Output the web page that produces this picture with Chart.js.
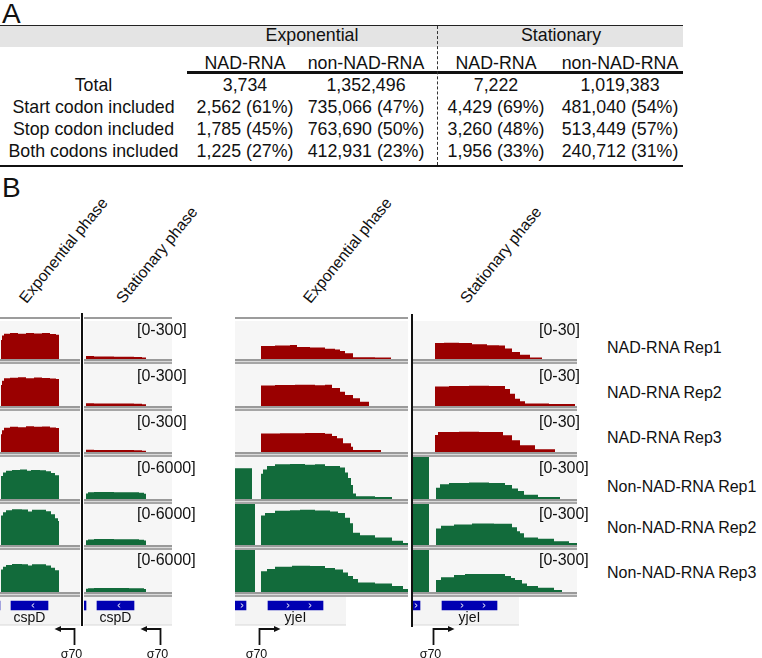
<!DOCTYPE html>
<html><head><meta charset="utf-8">
<script src="https://cdn.jsdelivr.net/npm/chart.js@4.4.1/dist/chart.umd.min.js"></script>
<style>
html,body{margin:0;padding:0;background:#fff;width:762px;height:658px;overflow:hidden;}
#root{position:relative;width:762px;height:658px;font-family:"Liberation Sans",Arial,sans-serif;color:#111;}
#root div{white-space:nowrap;}
canvas{display:block;}
</style></head><body><div id="root"></div>
<script>
// ---------------- Panel A data ----------------
const tableGroups = ['Exponential', 'Stationary'];
const tableSubHeaders = ['NAD-RNA', 'non-NAD-RNA', 'NAD-RNA', 'non-NAD-RNA'];
const tableRowLabels = ['Total', 'Start codon included', 'Stop codon included', 'Both codons included'];
const expNadCounts = ['3,734', '2,562 (61%)', '1,785 (45%)', '1,225 (27%)'];
const expNonNadCounts = ['1,352,496', '735,066 (47%)', '763,690 (50%)', '412,931 (23%)'];
const statNadCounts = ['7,222', '4,429 (69%)', '3,260 (48%)', '1,956 (33%)'];
const statNonNadCounts = ['1,019,383', '481,040 (54%)', '513,449 (57%)', '240,712 (31%)'];

// ---------------- Panel B data ----------------
const phaseLabels = ['Exponential phase', 'Stationary phase'];
const trackNames = ['NAD-RNA Rep1', 'NAD-RNA Rep2', 'NAD-RNA Rep3', 'Non-NAD-RNA Rep1', 'Non-NAD-RNA Rep2', 'Non-NAD-RNA Rep3'];
const cspdRangeMax = [300, 300, 300, 6000, 6000, 6000];
const yjeiRangeMax = [30, 30, 30, 300, 300, 300];

// coverage profiles: [position, coverage] (value holds until next position)
const cspdExpNAD1 = [[3,150],[4,185],[6,200],[12,205],[20,200],[28,206],[36,202],[44,205],[52,198],[58,192],[61,0]];
const cspdExpNAD2 = [[3,150],[4,180],[6,198],[12,202],[20,205],[28,198],[36,203],[44,200],[52,197],[58,192],[61,0]];
const cspdExpNAD3 = [[3,130],[4,160],[6,178],[12,185],[20,182],[28,188],[36,184],[44,186],[52,180],[58,176],[61,0]];
const cspdExpNon1 = [[3,3300],[5,3800],[8,4050],[14,4150],[22,4200],[29,4050],[33,4150],[42,4100],[48,3950],[53,3700],[57,3400],[61,0]];
const cspdExpNon2 = [[3,4300],[5,4800],[8,5100],[14,5250],[24,5200],[30,4900],[34,5150],[42,5150],[48,4950],[53,4500],[57,3900],[60,3500],[61,0]];
const cspdExpNon3 = [[3,3200],[5,3600],[8,3850],[14,4000],[24,3950],[30,3800],[34,3950],[42,3950],[48,3800],[53,3450],[57,3100],[61,0]];
const cspdStatNAD1 = [[2,24],[10,20],[30,18],[50,16],[58,12],[62,0]];
const cspdStatNAD2 = [[2,20],[10,18],[30,17],[50,16],[58,12],[62,0]];
const cspdStatNAD3 = [[2,16],[10,15],[30,14],[50,13],[58,10],[62,0]];
const cspdStatNon1 = [[2,800],[4,950],[10,1000],[30,980],[45,960],[55,900],[60,750],[62,0]];
const cspdStatNon2 = [[2,700],[4,820],[10,860],[30,850],[45,830],[55,780],[60,650],[62,0]];
const cspdStatNon3 = [[2,450],[4,540],[10,570],[30,560],[45,550],[55,520],[60,430],[62,0]];

const yjeiExpNAD1 = [[26,10.3],[40,10.6],[55,11.1],[62,9.4],[75,9.1],[90,8.0],[100,7.5],[105,6.3],[110,4.5],[118,1.4],[140,1.1],[156,0]];
const yjeiExpNAD2 = [[26,14.6],[40,15.0],[60,15.2],[80,14.8],[90,15.1],[97,12.8],[105,10.2],[110,7.9],[118,5.5],[125,3.0],[134,0]];
const yjeiExpNAD3 = [[26,13.5],[45,13.8],[70,13.9],[90,13.4],[97,11.7],[102,10.0],[108,6.4],[116,3.9],[118,1.5],[146,0]];
const yjeiExpNon1 = [[-5,220],[17,0],[26,180],[28,210],[32,235],[40,248],[55,250],[70,245],[80,248],[90,235],[105,225],[110,190],[113,150],[116,100],[118,40],[121,20],[140,15],[157,0]];
const yjeiExpNon2 = [[-5,400],[20,0],[26,215],[30,235],[40,250],[55,255],[65,258],[80,252],[95,245],[103,235],[110,200],[115,160],[118,90],[125,72],[140,55],[157,32],[168,15],[175,0]];
const yjeiExpNon3 = [[-5,400],[20,0],[26,148],[32,165],[40,180],[57,188],[75,185],[90,172],[100,160],[108,140],[113,115],[118,93],[123,68],[140,60],[157,42],[168,22],[175,0]];
const yjeiStatNAD1 = [[26,12.6],[35,12.9],[50,12.7],[63,11.7],[78,10.9],[90,10.6],[96,8.2],[103,5.6],[111,3.4],[121,1.1],[133,0]];
const yjeiStatNAD2 = [[26,14.0],[40,14.3],[60,14.4],[80,14.2],[96,12.2],[101,8.8],[106,5.2],[111,3.4],[116,1.7],[140,1.4],[166,0]];
const yjeiStatNAD3 = [[26,12.5],[29,14.6],[50,14.8],[70,14.6],[94,12.2],[103,8.6],[111,4.9],[126,2.0],[146,0]];
const yjeiStatNon1 = [[0,400],[20,0],[27,80],[31,105],[40,115],[60,118],[80,115],[96,100],[103,75],[109,57],[115,30],[129,15],[151,0]];
const yjeiStatNon2 = [[0,400],[20,0],[27,120],[32,140],[45,150],[63,157],[85,155],[103,130],[108,100],[111,86],[115,55],[129,45],[145,28],[160,15],[170,0]];
const yjeiStatNon3 = [[0,400],[20,0],[27,85],[32,105],[45,122],[56,129],[80,128],[96,115],[102,100],[106,86],[113,60],[118,43],[129,30],[145,15],[153,0]];

// gene annotation: [start, end], names, strand chevrons, promoter [TSS, arrow tip]
const cspdGenes = [[-20, 2], [13, 50]];
const cspdGeneNames = ['', 'cspD'];
const cspdChevrons = [35];
const cspdPromoter = [76.5, 56.5];
const yjeiGenes = [[-30, 11], [33, 88]];
const yjeiGeneNames = ['', 'yjeI'];
const yjeiChevrons = [7, 53, 75];
const yjeiPromoter = [24.5, 45.5];
const promoterFactor = 'σ70';

// ---------------- layout ----------------
const FONT = '"Liberation Sans", Arial, sans-serif';
const RED = '#9a0000', GREEN = '#126b3b', BLUE = '#0000b2';
const root = document.getElementById('root');
function el(css, text) {
  const e = document.createElement('div');
  e.style.cssText = 'position:absolute;' + css;
  if (text != null) e.textContent = text;
  root.appendChild(e);
  return e;
}
function textAt(cx, cy, txt, fs, align) {
  if (align === 'left') return el(`left:${cx}px;top:${cy-10}px;height:20px;line-height:20px;font-size:${fs}px;`, txt);
  return el(`left:${cx-150}px;width:300px;top:${cy-10}px;height:20px;line-height:20px;text-align:center;font-size:${fs}px;`, txt);
}

// Panel A
el('left:2px;top:0px;font-size:28px;line-height:28px;', 'A');
el('left:0;top:26px;width:683px;height:21px;background:#e4e4e4;');
el('left:0;top:24.5px;width:683px;height:1.5px;background:#222;');
el('left:187px;top:71px;width:496px;height:2.5px;background:#111;');
el('left:0;top:165px;width:683px;height:2px;background:#111;');
el('left:437px;top:26px;width:0;height:139px;border-left:1.4px dashed #333;');
const groupX = [312, 561];
tableGroups.forEach((g, i) => textAt(groupX[i], 34.5, g, 17.8));
const colX = [245, 366, 496, 620];
tableSubHeaders.forEach((h, i) => textAt(colX[i], 62.5, h, 17.8));
const rowYs = [85.3, 106.5, 128.8, 151.3];
const tableCols = [expNadCounts, expNonNadCounts, statNadCounts, statNonNadCounts];
tableRowLabels.forEach((r, j) => {
  textAt(93.5, rowYs[j], r, 17.8);
  tableCols.forEach((col, i) => textAt(colX[i], rowYs[j], col[j], 17.8));
});

// Panel B
el('left:2px;top:174px;font-size:28px;line-height:28px;', 'B');
const rowY = [318, 361, 408, 454, 501, 547, 594];
const rangeLabelY = [330, 375.5, 421.5, 468, 513.5, 560];
const trackLabelY = [348.3, 393.3, 438.3, 486.7, 528.3, 573.3];
const panels = [
  {left:0,   width:80,  xr:[2,82],  tracks:[cspdExpNAD1,cspdExpNAD2,cspdExpNAD3,cspdExpNon1,cspdExpNon2,cspdExpNon3], max:cspdRangeMax, phase:0, hx:27,  topLine:true,
   genes:cspdGenes, names:cspdGeneNames, chev:cspdChevrons, strand:-1, prom:cspdPromoter, bg:[-10,100]},
  {left:84,  width:88,  xr:[0,88],  tracks:[cspdStatNAD1,cspdStatNAD2,cspdStatNAD3,cspdStatNon1,cspdStatNon2,cspdStatNon3], max:cspdRangeMax, phase:1, hx:124, topLine:true, rangeX:137,
   genes:cspdGenes, names:cspdGeneNames, chev:cspdChevrons, strand:-1, prom:cspdPromoter, bg:[-10,100]},
  {left:235, width:173, xr:[0,173], tracks:[yjeiExpNAD1,yjeiExpNAD2,yjeiExpNAD3,yjeiExpNon1,yjeiExpNon2,yjeiExpNon3], max:yjeiRangeMax, phase:0, hx:311, topLine:true,
   genes:yjeiGenes, names:yjeiGeneNames, chev:yjeiChevrons, strand:1, prom:yjeiPromoter, bg:[-10,111]},
  {left:413, width:164, xr:[4,168], tracks:[yjeiStatNAD1,yjeiStatNAD2,yjeiStatNAD3,yjeiStatNon1,yjeiStatNon2,yjeiStatNon3], max:yjeiRangeMax, phase:1, hx:468, topLine:false, rangeX:539,
   genes:yjeiGenes, names:yjeiGeneNames, chev:yjeiChevrons, strand:1, prom:yjeiPromoter, bg:[-10,110]},
];

function makeCanvas(left, top, w, h, bg) {
  const c = document.createElement('canvas');
  c.width = w; c.height = h;
  c.style.cssText = `position:absolute;left:${left}px;top:${top}px;width:${w}px;height:${h}px;` + (bg ? `background:${bg};` : '');
  root.appendChild(c);
  return c;
}
const baseOpts = () => ({
  responsive:false, animation:false, devicePixelRatio:1, events:[],
  layout:{padding:0},
  plugins:{legend:{display:false}, tooltip:{enabled:false}, title:{display:false}},
});

function coverageTrack(left, top, w, h, xr, ymax, pts, color) {
  const c = makeCanvas(left, top, w, h, '#f6f6f6');
  const o = baseOpts();
  o.scales = {x:{type:'linear', min:xr[0], max:xr[1], display:false}, y:{type:'linear', min:0, max:ymax, display:false}};
  new Chart(c, {type:'line', data:{datasets:[{data:pts, stepped:true, fill:'origin', backgroundColor:color, borderColor:color, borderWidth:0, pointRadius:0, clip:0}]}, options:o});
}

const genePlugin = {
  id:'geneDecor',
  beforeDatasetsDraw(chart, args, opts) {
    const ctx = chart.ctx, x = chart.scales.x, p = opts.panel, a = chart.chartArea;
    const x0 = Math.max(a.left, x.getPixelForValue(p.bg[0])), x1 = Math.min(a.right, x.getPixelForValue(p.bg[1]));
    ctx.save();
    ctx.fillStyle = '#f4f4f4';
    ctx.fillRect(x0, 0, x1 - x0, 28);
    ctx.fillStyle = '#d8d8d8';
    ctx.fillRect(x0, 27.5, x1 - x0, 1);
    ctx.restore();
  },
  afterDatasetsDraw(chart, args, opts) {
    const ctx = chart.ctx, x = chart.scales.x, p = opts.panel;
    const cy = 8.5;
    ctx.save();
    ctx.strokeStyle = '#fff'; ctx.lineWidth = 1;
    p.chev.forEach(v => {
      const cx = x.getPixelForValue(v);
      ctx.beginPath();
      ctx.moveTo(cx - 1.2 * p.strand, cy - 2);
      ctx.lineTo(cx + 1.2 * p.strand, cy);
      ctx.lineTo(cx - 1.2 * p.strand, cy + 2);
      ctx.stroke();
    });
    ctx.fillStyle = '#111';
    ctx.font = '14px ' + FONT;
    ctx.textAlign = 'center'; ctx.textBaseline = 'alphabetic';
    p.genes.forEach((g, i) => {
      if (p.names[i]) ctx.fillText(p.names[i], x.getPixelForValue((g[0] + g[1]) / 2), 24.5);
    });
    const px = x.getPixelForValue(p.prom[0]), tip = x.getPixelForValue(p.prom[1]);
    const dir = Math.sign(tip - px), ay = 32;
    ctx.strokeStyle = '#111'; ctx.lineWidth = 1.8;
    ctx.beginPath();
    ctx.moveTo(px, 48); ctx.lineTo(px, ay); ctx.lineTo(tip - dir * 5, ay);
    ctx.stroke();
    ctx.beginPath();
    ctx.moveTo(tip, ay); ctx.lineTo(tip - dir * 6.5, ay - 3); ctx.lineTo(tip - dir * 6.5, ay + 3); ctx.closePath();
    ctx.fill();
    ctx.font = '12.5px ' + FONT;
    ctx.fillText(promoterFactor, px - 3, 60.5);
    ctx.restore();
  }
};

function geneTrack(p) {
  const top = 597, h = 61, extra = 24;
  const c = makeCanvas(p.left, top, p.width + extra, h, null);
  const o = baseOpts();
  o.indexAxis = 'y';
  o.layout = {padding:{top:0, bottom:h - 17, left:0, right:extra}};
  o.scales = {x:{type:'linear', min:p.xr[0], max:p.xr[1], display:false}, y:{display:false}};
  o.plugins.geneDecor = {panel:p};
  new Chart(c, {
    type:'bar',
    data:{labels:['genes'], datasets:p.genes.map(g => ({data:[g], backgroundColor:BLUE, barThickness:9, grouped:false, clip:0}))},
    options:o,
    plugins:[genePlugin]
  });
}

panels.forEach(p => {
  el(`left:${p.hx}px;top:${304 - 15.5}px;font-size:15.8px;line-height:20px;transform-origin:0 15.5px;transform:rotate(-51deg);`, phaseLabels[p.phase]);
  if (p.topLine) el(`left:${p.left}px;top:317px;width:${p.width}px;height:1.6px;background:#9c9c9c;`);
  p.tracks.forEach((pts, r) => {
    const top = rowY[r] + 3, bottom = rowY[r + 1] - 2;
    coverageTrack(p.left, top, p.width, bottom - top, p.xr, p.max[r], pts, r < 3 ? RED : GREEN);
    el(`left:${p.left}px;top:${rowY[r + 1] - 2}px;width:${p.width}px;height:1px;border-top:2px solid #9a9a9a;border-bottom:2px solid #a6a6a6;background:#dadada;`);
    if (p.rangeX) textAt(p.rangeX, rangeLabelY[r], `[0-${p.max[r]}]`, 16, 'left');
  });
  geneTrack(p);
});

el('left:80.7px;top:313px;width:2.2px;height:313px;background:#111;z-index:5;');
el('left:410.7px;top:314px;width:2.2px;height:313px;background:#111;z-index:5;');

trackNames.forEach((t, r) => textAt(607, trackLabelY[r], t, 16, 'left'));
</script>
</body></html>
